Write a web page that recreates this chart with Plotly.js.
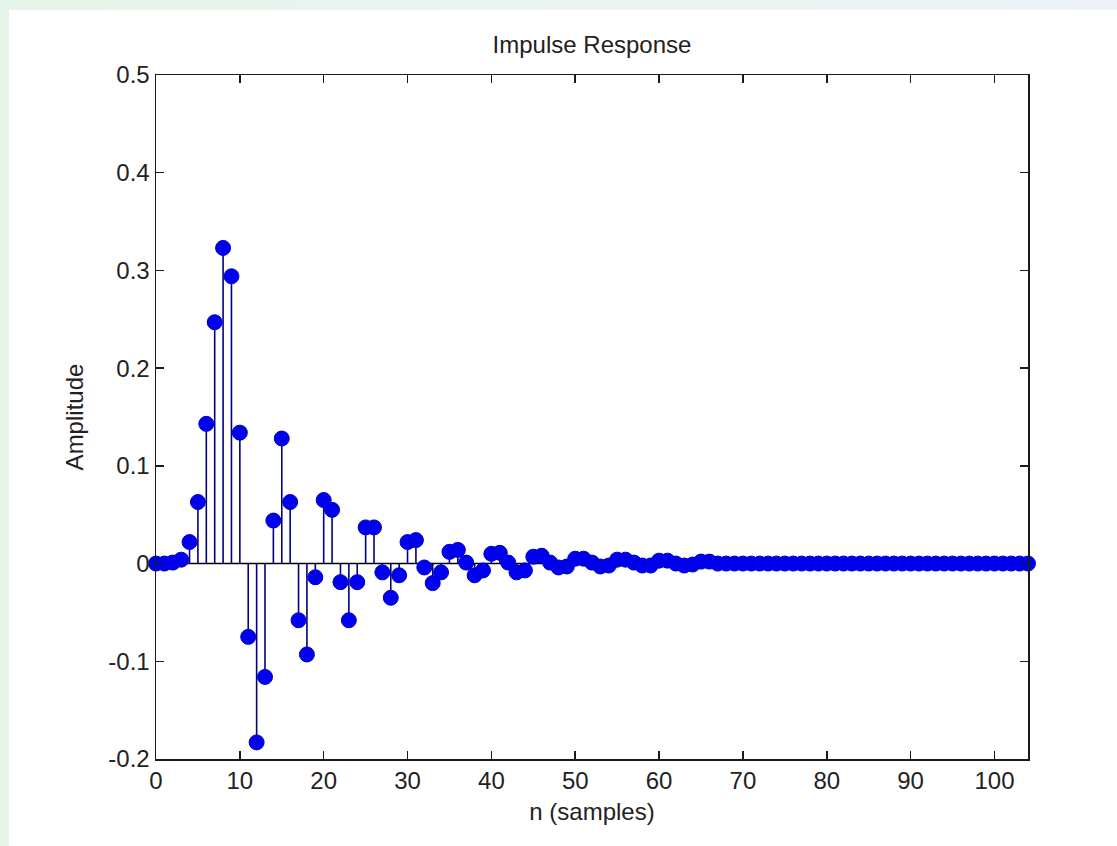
<!DOCTYPE html>
<html>
<head>
<meta charset="utf-8">
<script src="https://cdn.plot.ly/plotly-3.0.1.min.js"></script>
<style>
  html, body { margin: 0; padding: 0; width: 1117px; height: 846px; overflow: hidden;
    background: linear-gradient(90deg, #e4f4e8 0%, #eaf4f0 45%, #eef2f7 100%); }
  #chart { position: absolute; left: 9px; top: 10px; width: 1108px; height: 836px; background: #ffffff; }
</style>
</head>
<body>
<div id="chart"></div>
<script>
// Sample index n and impulse-response amplitude h[n]
const n = [];
for (let i = 0; i <= 104; i++) n.push(i);

const amplitudeHead = [
  0.000, 0.000, 0.001, 0.004, 0.022, 0.063, 0.143, 0.247, 0.323, 0.294,
  0.134, -0.075, -0.183, -0.116, 0.044, 0.128, 0.063, -0.058, -0.093, -0.014,
  0.065, 0.055, -0.019, -0.058, -0.019, 0.037, 0.037, -0.009, -0.035, -0.012,
  0.022, 0.024, -0.004, -0.020, -0.009, 0.012, 0.014, 0.001, -0.012, -0.007,
  0.010, 0.011, 0.001, -0.009, -0.007, 0.007, 0.008, 0.001, -0.004, -0.003,
  0.005, 0.005, 0.001, -0.003, -0.002, 0.004, 0.004, 0.001, -0.002, -0.002,
  0.003, 0.003, 0.000, -0.002, -0.001, 0.002, 0.002
];
// from n = 67 to 104 the response is flat at zero
const amplitudeTail = [
  0,0,0,0,0,0,0,0,0,0, 0,0,0,0,0,0,0,0,0,0,
  0,0,0,0,0,0,0,0,0,0, 0,0,0,0,0,0,0,0
];
const amplitude = amplitudeHead.concat(amplitudeTail);

const xTickVals = [0, 10, 20, 30, 40, 50, 60, 70, 80, 90, 100];
const xTickText = ['0', '10', '20', '30', '40', '50', '60', '70', '80', '90', '100'];
const yTickVals = [-0.2, -0.1, 0, 0.1, 0.2, 0.3, 0.4, 0.5];
const yTickText = ['-0.2', '-0.1', '0', '0.1', '0.2', '0.3', '0.4', '0.5'];

const titleText = 'Impulse Response';
const xLabel = 'n (samples)';
const yLabel = 'Amplitude';

// stems: vertical segments from 0 to each value
const stemX = [], stemY = [];
for (let i = 0; i < n.length; i++) {
  stemX.push(n[i], n[i], null);
  stemY.push(0, amplitude[i], null);
}

const FONT = '"Liberation Sans", Arial, Helvetica, sans-serif';

const traces = [
  {
    x: [0, 104], y: [0, 0], mode: 'lines', type: 'scatter',
    line: { color: '#000000', width: 1.5 }, hoverinfo: 'skip', showlegend: false
  },
  {
    x: stemX, y: stemY, mode: 'lines', type: 'scatter',
    line: { color: '#000080', width: 1.6 }, hoverinfo: 'skip', showlegend: false,
    cliponaxis: false
  },
  {
    x: n, y: amplitude, mode: 'markers', type: 'scatter',
    marker: { color: '#0000f0', size: 15, line: { color: '#0000c0', width: 1 } },
    showlegend: false, cliponaxis: false
  }
];

const axisCommon = {
  showline: true, linecolor: '#1a1a1a', linewidth: 1.5, mirror: 'ticks',
  ticks: 'inside', ticklen: 8, tickwidth: 1.5, tickcolor: '#1a1a1a',
  showgrid: false, zeroline: false,
  tickfont: { family: FONT, size: 24, color: '#222222' }
};

const layout = {
  width: 1108, height: 836,
  paper_bgcolor: '#ffffff', plot_bgcolor: '#ffffff',
  margin: { l: 147, r: 89, t: 65, b: 87 },
  showlegend: false,
  font: { family: FONT, size: 24, color: '#222222' },
  title: {
    text: titleText, x: 0.5, xref: 'paper', xanchor: 'center',
    y: 1 - 35 / 836, yref: 'container', yanchor: 'middle',
    font: { family: FONT, size: 24, color: '#222222' }
  },
  xaxis: Object.assign({}, axisCommon, {
    range: [0, 104], tickmode: 'array', tickvals: xTickVals, ticktext: xTickText,
    title: { text: xLabel, standoff: 10, font: { family: FONT, size: 24, color: '#222222' } }
  }),
  yaxis: Object.assign({}, axisCommon, {
    range: [-0.2, 0.5], tickmode: 'array', tickvals: yTickVals, ticktext: yTickText,
    title: { text: yLabel, standoff: 18, font: { family: FONT, size: 24, color: '#222222' } }
  })
};

Plotly.newPlot('chart', traces, layout, { staticPlot: true, displayModeBar: false });
</script>
</body>
</html>
